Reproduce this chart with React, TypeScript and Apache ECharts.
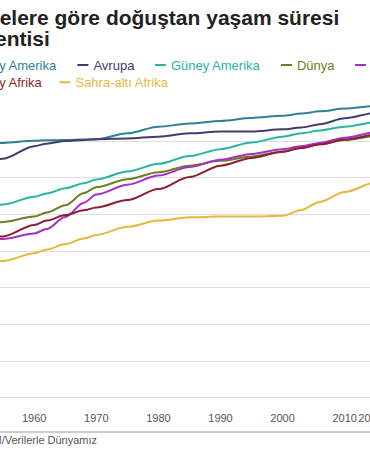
import React, { useEffect, useRef } from 'react';
import * as echarts from 'echarts';

const years = [1950, 1955, 1960, 1962, 1965, 1968, 1970, 1975, 1980, 1985, 1990, 1995, 2000, 2003, 2006, 2010, 2015, 2019];
const kuzeyAmerika = [68.5, 69.5, 70.1, 70.2, 70.3, 70.4, 70.5, 72.1, 73.9, 74.8, 75.5, 76.3, 76.9, 77.5, 78.1, 78.9, 79.6, 80.2];
const avrupa = [61.5, 65.2, 68.6, 69.3, 70.0, 70.3, 70.5, 70.7, 71.2, 72.1, 72.6, 72.6, 73.2, 73.7, 74.6, 76.2, 77.7, 78.6];
const guneyAmerika = [50.5, 52.7, 54.8, 55.7, 57.1, 58.5, 59.5, 61.7, 63.8, 65.9, 67.8, 69.6, 71.2, 72.1, 72.9, 73.9, 75.1, 75.9];
const dunya = [46.5, 47.9, 49.4, 50.5, 52.5, 55.8, 57.4, 59.6, 61.5, 63.3, 64.6, 65.8, 67.1, 68.2, 69.1, 70.3, 71.4, 72.4];
const asya = [41.5, 43.3, 44.8, 46.0, 49.3, 53.2, 55.4, 58.1, 60.6, 62.9, 64.9, 66.5, 67.8, 68.6, 69.5, 70.9, 72.4, 73.5];
const kuzeyAfrika = [42.0, 44.0, 47.1, 48.3, 49.8, 51.1, 51.9, 53.9, 56.9, 60.2, 63.3, 65.4, 67.1, 68.1, 69.1, 70.4, 71.7, 72.6];
const sahraAlti = [36.0, 37.3, 39.4, 40.4, 41.9, 43.4, 44.4, 46.6, 48.3, 49.2, 49.4, 49.4, 49.6, 51.2, 53.4, 56.1, 58.7, 60.8];

const seriesNames = ['Kuzey Amerika', 'Avrupa', 'Güney Amerika', 'Dünya', 'Asya', 'Kuzey Afrika', 'Sahra-altı Afrika'];
const seriesValues = [kuzeyAmerika, avrupa, guneyAmerika, dunya, asya, kuzeyAfrika, sahraAlti];
const seriesColors = ['#2f7f95', '#3f3d6e', '#2bb59c', '#6b7f23', '#a62fc8', '#8c1f31', '#e6b83e'];

const titleText = 'Bölgelere göre doğuştan yaşam süresi\nbeklentisi';
const sourceText = 'Kaynak: BM/Verilerle Dünyamız';
const lastYearLabel = 2019;

export default function App() {
  const ref = useRef<HTMLDivElement>(null);
  useEffect(() => {
    const chart = echarts.init(ref.current!, null, { renderer: 'svg' });
    const font = "'Liberation Sans', Arial, Helvetica, sans-serif";
    const legendItem = (i: number) => ({
      name: seriesNames[i],
      textStyle: { color: seriesColors[i], fontFamily: font, fontSize: 13 },
    });
    const legendBase = {
      orient: 'horizontal',
      padding: 0,
      icon: 'rect',
      itemWidth: 11,
      itemHeight: 2,
      selectedMode: false,
      textStyle: { fontFamily: font, fontSize: 13 },
    };
    chart.setOption({
      animation: false,
      backgroundColor: '#ffffff',
      title: {
        text: titleText,
        left: 13,
        top: 7,
        padding: 0,
        textStyle: { fontFamily: font, fontSize: 21, fontWeight: 'bold', lineHeight: 21, color: '#222222' },
      },
      legend: [
        { ...legendBase, left: 13.5, top: 58.5, itemGap: 20.5, data: [0, 1, 2, 3, 4].map(legendItem) },
        { ...legendBase, left: 13.5, top: 75.8, itemGap: 17, data: [5, 6].map(legendItem) },
      ],
      grid: { left: 32.1, right: 39.4, top: 104.4, bottom: 52.3, containLabel: false, outerBoundsMode: 'none' },
      xAxis: {
        type: 'value',
        min: 1950,
        max: lastYearLabel,
        interval: 10,
        axisLine: { show: false },
        axisTick: { show: false },
        splitLine: { show: false },
        axisLabel: {
          show: true,
          showMaxLabel: true,
          showMinLabel: true,
          margin: 15,
          fontFamily: font,
          fontSize: 11,
          color: '#555555',
          formatter: (v: number) => (v === lastYearLabel ? '{e|' + v + '}' : String(v)),
          rich: { e: { fontFamily: font, fontSize: 11, color: '#555555', padding: [0, 60, 0, 0] } },
        },
      },
      yAxis: {
        type: 'value',
        min: 0,
        max: 80,
        interval: 10,
        axisLine: { show: false },
        axisTick: { show: false },
        axisLabel: { fontFamily: font, fontSize: 11, color: '#555555' },
        splitLine: { show: true, showMaxLine: false, lineStyle: { color: '#dedede', width: 1 } },
      },
      graphic: [
        { type: 'line', shape: { x1: 0, y1: 432, x2: 500, y2: 432 }, style: { stroke: '#9a9a9a', lineWidth: 1 } },
        {
          type: 'text',
          x: 2.4,
          y: 440,
          style: { text: sourceText, fontFamily: font, fontSize: 11, fill: '#555555', verticalAlign: 'middle' },
        },
      ],
      series: seriesNames.map((name, i) => ({
        name,
        type: 'line',
        data: years.map((y, j) => [y, seriesValues[i][j]]),
        symbol: 'none',
        showSymbol: false,
        smooth: 0.3,
        smoothMonotone: 'x',
        lineStyle: { width: 2, color: seriesColors[i] },
        itemStyle: { color: seriesColors[i] },
      })),
    });
    return () => chart.dispose();
  }, []);
  return (
    <div style={{ position: 'fixed', left: 0, top: 0, width: 370, height: 450, overflow: 'hidden', background: '#ffffff' }}>
      <div ref={ref} style={{ position: 'absolute', left: -60, top: 0, width: 500, height: 450 }} />
    </div>
  );
}
